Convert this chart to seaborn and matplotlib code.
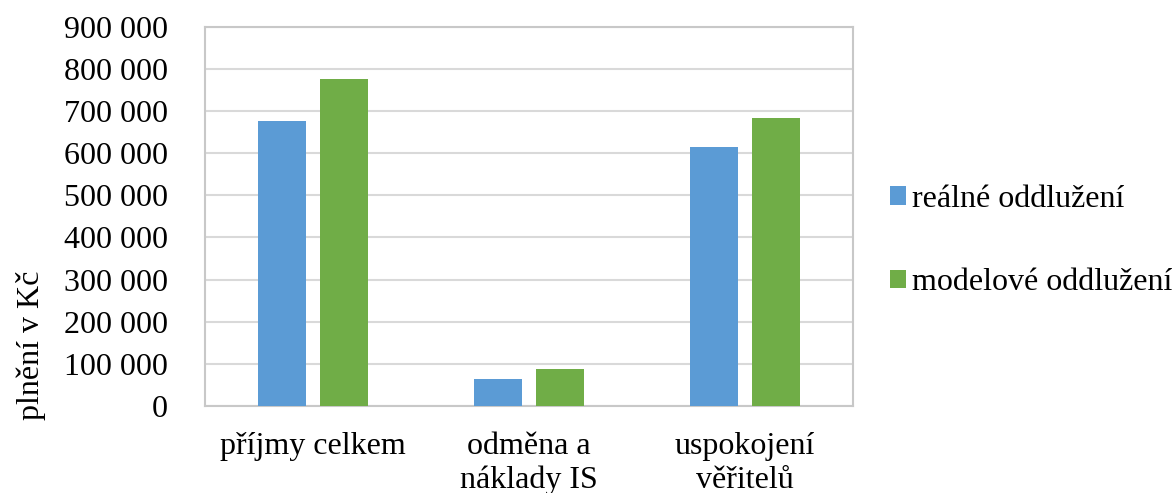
import numpy as np
import pandas as pd
import matplotlib
matplotlib.use("Agg")
import matplotlib.pyplot as plt
from matplotlib.ticker import FuncFormatter, MultipleLocator
import seaborn as sns

# Chart data
categories = ["příjmy celkem", "odměna a\nnáklady IS", "uspokojení\nvěřitelů"]
series_names = ["reálné oddlužení", "modelové oddlužení"]
real_values = [677000, 63000, 614000]
model_values = [777000, 88000, 683000]
colors = ["#5B9BD5", "#70AD47"]

# Long table for seaborn
df = pd.DataFrame({
    "kategorie": categories * 2,
    "serie": [series_names[0]] * 3 + [series_names[1]] * 3,
    "hodnota": real_values + model_values,
})

sns.set_theme(style="white")
plt.rcParams["font.family"] = ["Liberation Serif", "DejaVu Serif"]
plt.rcParams["text.color"] = "black"

fig = plt.figure(figsize=(11.75, 4.93), dpi=100)
ax = fig.add_axes([0.1745, 0.1765, 0.5515, 0.769])

sns.barplot(data=df, x="kategorie", y="hodnota", hue="serie",
            palette=colors, saturation=1, width=0.574, gap=0.226, linewidth=0,
            errorbar=None, ax=ax, zorder=3)

# Axis setup
ax.set_ylim(0, 900000)
ax.set_xlim(-0.5, 2.5)
ax.yaxis.set_major_locator(MultipleLocator(100000))
ax.yaxis.set_major_formatter(FuncFormatter(lambda v, p: f"{v:,.0f}".replace(",", " ")))
ax.grid(axis="y", color="#D9D9D9", linewidth=1.5, zorder=0)
ax.set_axisbelow(True)
for s in ax.spines.values():
    s.set_color("#C8C8C8")
    s.set_linewidth(1.5)

ax.tick_params(axis="y", length=0, pad=27, labelsize=23, colors="black")
ax.tick_params(axis="x", length=0, pad=19, labelsize=23, colors="black")
ax.set_xlabel("")
ax.set_ylabel("plnění v Kč", fontsize=23, color="black")
ax.yaxis.set_label_coords(-0.245, 0.16)

# Legend on the right
leg = ax.legend(loc="center left", bbox_to_anchor=(1.012, 0.435), frameon=False,
                fontsize=23, handlelength=0.5, handleheight=0.5,
                handletextpad=0.2, labelspacing=1.7, borderaxespad=0.5)
for t in leg.get_texts():
    t.set_color("black")

fig.savefig("out.png", dpi=100)
